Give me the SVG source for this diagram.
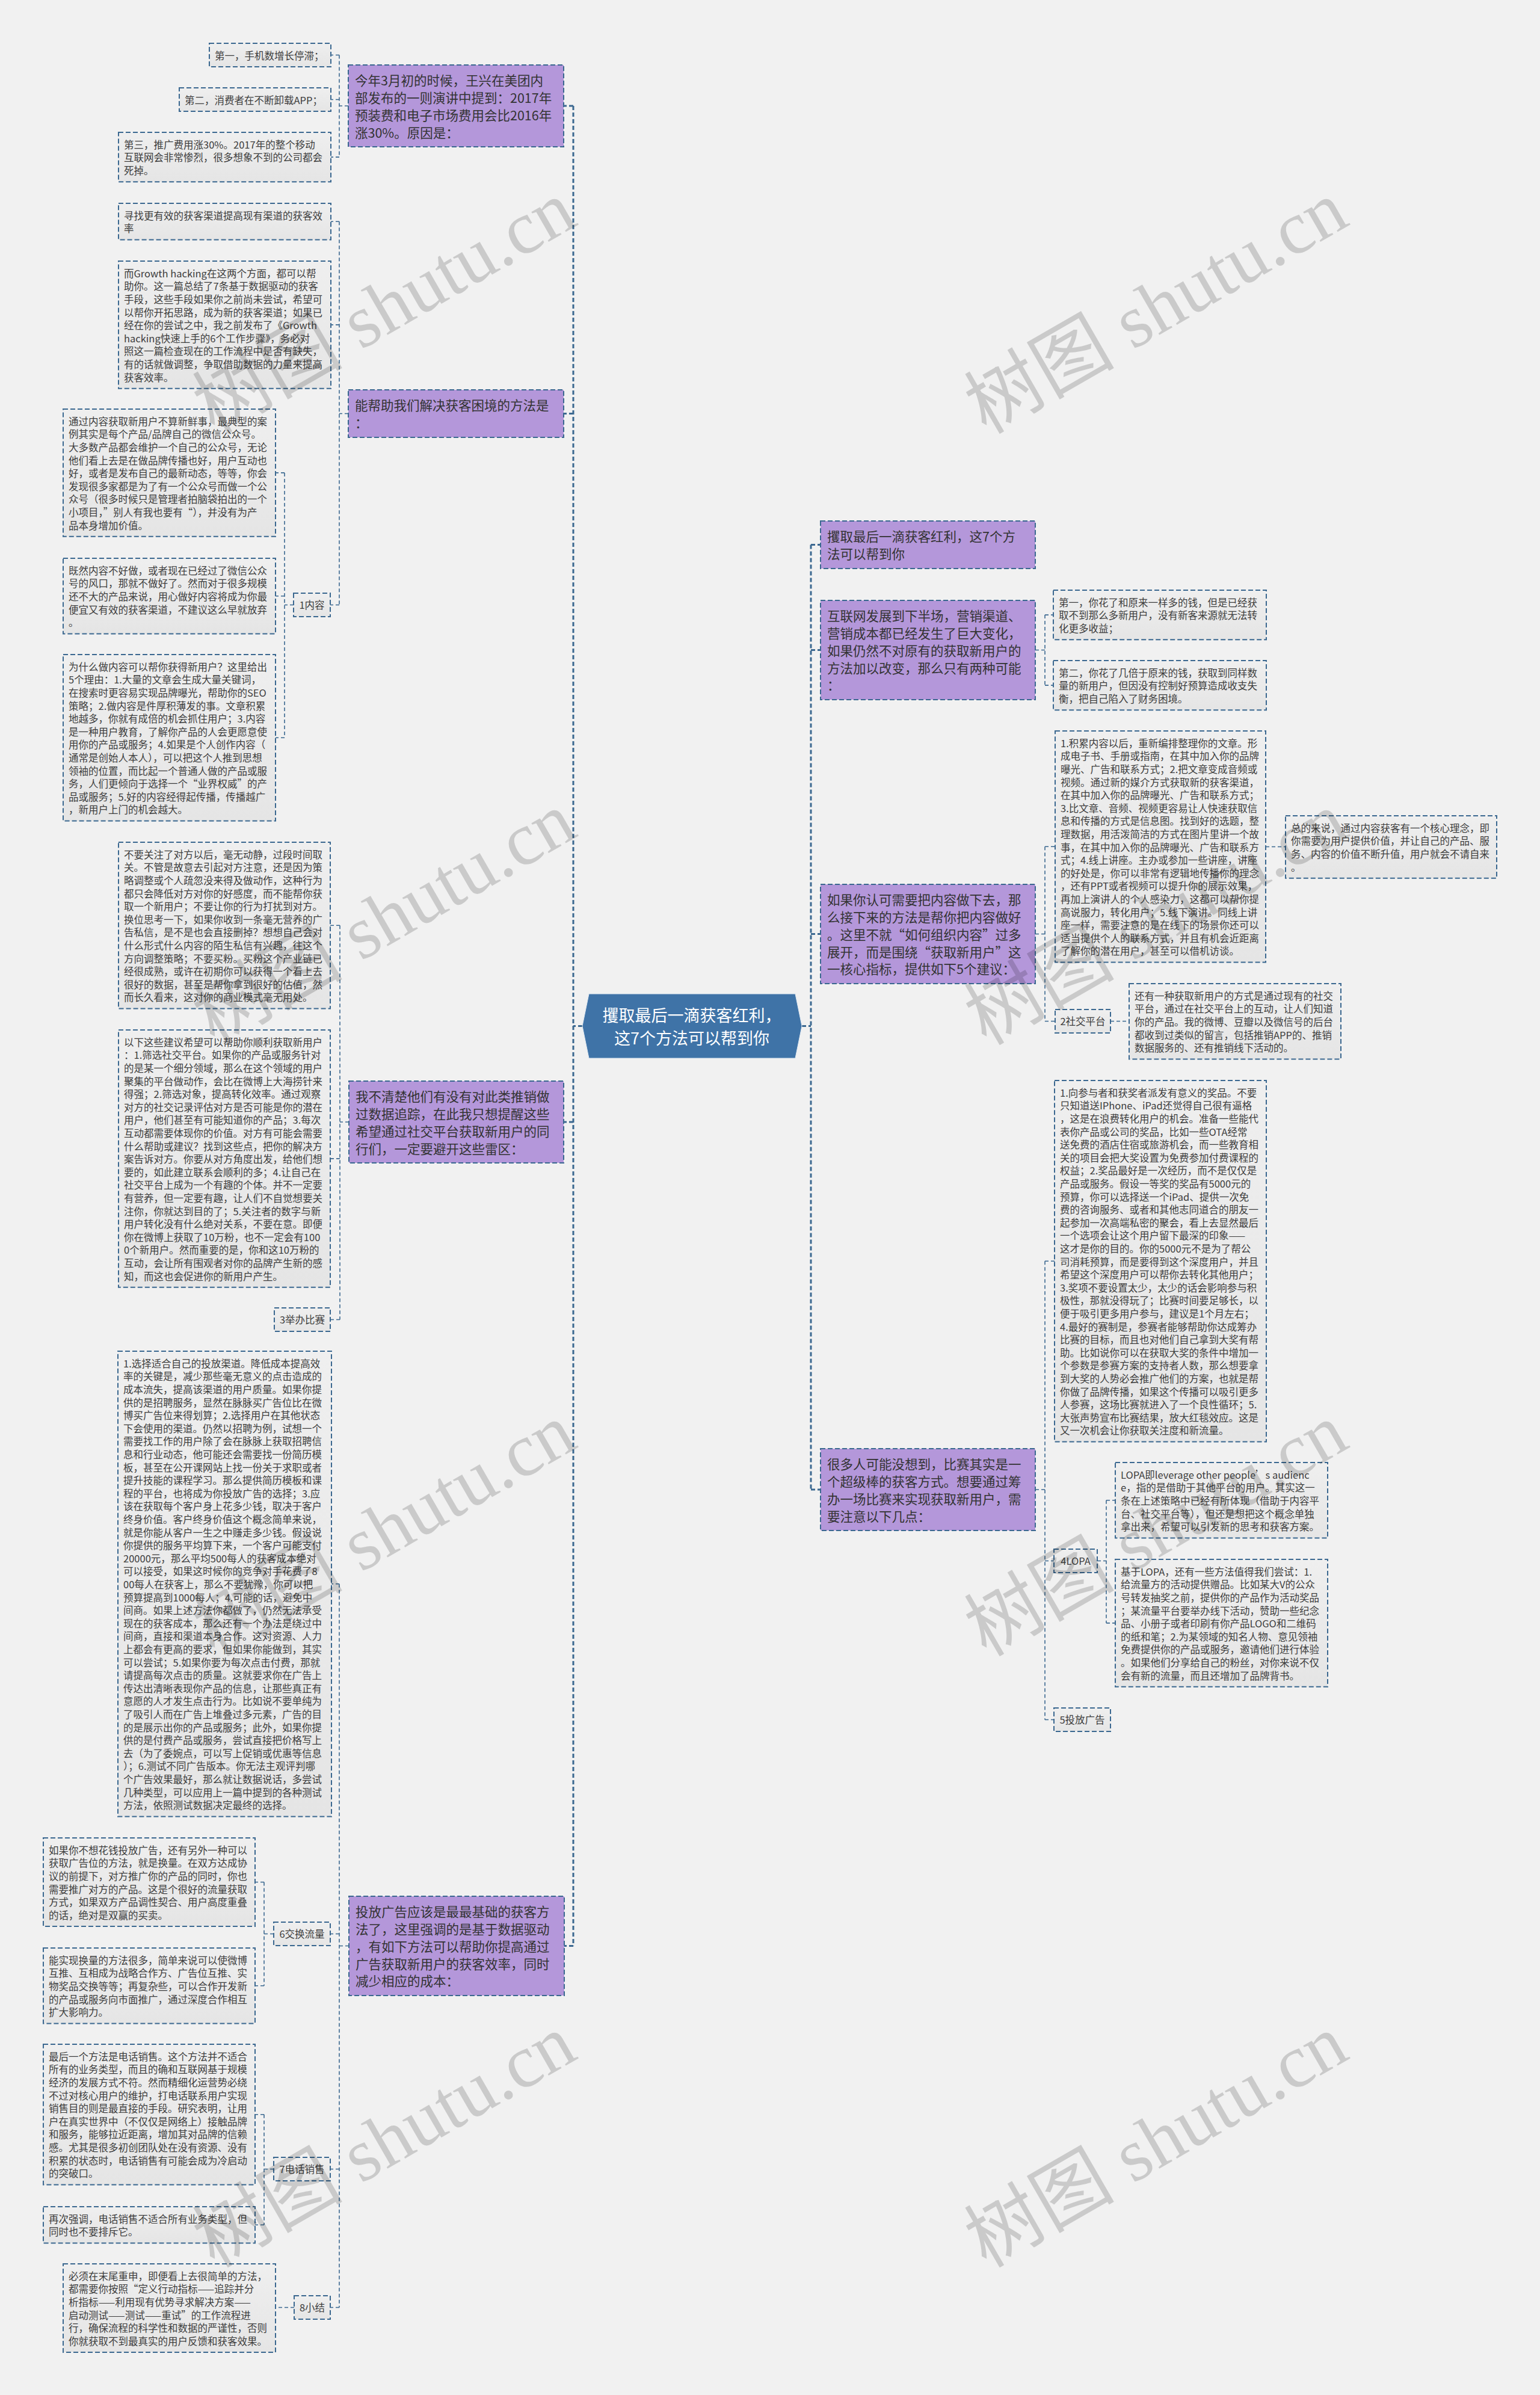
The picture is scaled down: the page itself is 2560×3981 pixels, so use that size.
<svg xmlns="http://www.w3.org/2000/svg" width="2560" height="3981" viewBox="0 0 2560 3981">
<defs>
<linearGradient id="lg" x1="0" y1="0" x2="0" y2="1">
<stop offset="0" stop-color="#efefef"/>
<stop offset="1" stop-color="#e5e5e5"/>
</linearGradient>
<style>
.bg{fill:#f1f1f1}
.leaf{fill:url(#lg);stroke:#3b6890;stroke-width:2;stroke-dasharray:8 4}
.pur{fill:#b497da;stroke:#3b6890;stroke-width:2;stroke-dasharray:8 4}
.t{font-family:"Noto Sans CJK SC","Noto Sans",sans-serif;font-size:16.5px;fill:#3d3d3d}
.pt{font-family:"Noto Sans CJK SC","Noto Sans",sans-serif;font-size:21.5px;fill:#333333}
.ct{font-family:"Noto Sans CJK SC","Noto Sans",sans-serif;font-size:27px;fill:#ffffff}
.lb{text-anchor:middle}
.cm{fill:none;stroke:#3b6890;stroke-width:3;stroke-dasharray:7 4}
.cn{fill:none;stroke:#3b6890;stroke-width:1.6;stroke-dasharray:6 4}
.wm{font-family:"Liberation Serif","Noto Sans CJK SC",serif;font-size:125px;fill:#000000;fill-opacity:0.16;text-anchor:middle}
</style>
</defs>
<rect class="bg" x="0" y="0" width="2560" height="3981"/>

<g id="connectors">
<path class="cm" d="M968,1705.5 H953 M953,176 V3234.5 M953,176 H937 M953,687.5 H937 M953,1865 H937 M953,3234.5 H938"/>
<path class="cm" d="M1333,1705.5 H1348 M1348,905.5 V2476 M1348,905.5 H1364 M1348,1080.5 H1364 M1348,1552.5 H1364 M1348,2476 H1364"/>
<path class="cn" d="M579,176 H564 M564,91.5 V261.1 M564,91.5 H550 M564,165.5 H550 M564,261.1 H550"/>
<path class="cn" d="M579,687.5 H564 M564,368.3 V1005.5 M564,368.3 H550 M564,539.9 H550 M564,1005.5 H549"/>
<path class="cn" d="M488,1005.5 H473 M473,785.9 V1226.3 M473,785.9 H458 M473,990.7 H458 M473,1226.3 H458"/>
<path class="cn" d="M580,1865 H565 M565,1538.3 V2193.5 M565,1538.3 H549 M565,1925.9 H549 M565,2193.5 H549"/>
<path class="cn" d="M580,3234.5 H564 M564,2632.7 V3835.5 M564,2632.7 H551 M564,3214.5 H549 M564,3605.5 H549 M564,3835.5 H549"/>
<path class="cn" d="M455,3214.5 H439 M439,3128.5 V3300.7 M439,3128.5 H424 M439,3300.7 H424"/>
<path class="cn" d="M455,3605.5 H439 M439,3514.7 V3698.3 M439,3514.7 H424 M439,3698.3 H424"/>
<path class="cn" d="M489,3835.5 H458"/>
<path class="cn" d="M1721,1080.5 H1737 M1737,1022.1 V1139.1 M1737,1022.1 H1751 M1737,1139.1 H1751"/>
<path class="cn" d="M1721,1552.5 H1737 M1737,1407.3 V1697.5 M1737,1407.3 H1754 M1737,1697.5 H1754"/>
<path class="cn" d="M2104,1407.5 H2137"/>
<path class="cn" d="M1846,1697.5 H1877"/>
<path class="cn" d="M1721,2476 H1737 M1737,2096.3 V2858.5 M1737,2096.3 H1753 M1737,2594.5 H1752 M1737,2858.5 H1752"/>
<path class="cn" d="M1824,2594.5 H1839 M1839,2493.7 V2697.9 M1839,2493.7 H1854 M1839,2697.9 H1854"/>
</g>

<g id="n-center">
<polygon points="979,1652 1322,1652 1333,1705.5 1322,1759 979,1759 968,1705.5" fill="#3f73a7" stroke="#dfe8f1" stroke-width="1"/>
<text class="ct lb" x="1150" y="1697.5">攫取最后一滴获客红利，</text>
<text class="ct lb" x="1150" y="1735.5">这7个方法可以帮到你</text>
</g>

<g id="n-p1l">
<rect class="pur" x="579" y="108" width="358" height="136"/>
<text class="pt" x="590" y="142.2">今年3月初的时候，王兴在美团内<tspan x="590" dy="28.8">部发布的一则演讲中提到：2017年</tspan><tspan x="590" dy="28.8">预装费和电子市场费用会比2016年</tspan><tspan x="590" dy="28.8">涨30%。原因是：</tspan></text>
</g>
<g id="n-p2l">
<rect class="pur" x="579" y="648" width="358" height="79"/>
<text class="pt" x="590" y="682.2">能帮助我们解决获客困境的方法是<tspan x="590" dy="28.8">：</tspan></text>
</g>
<g id="n-p3l">
<rect class="pur" x="580" y="1797" width="357" height="136"/>
<text class="pt" x="591" y="1831.2">我不清楚他们有没有对此类推销做<tspan x="591" dy="28.8">过数据追踪，在此我只想提醒这些</tspan><tspan x="591" dy="28.8">希望通过社交平台获取新用户的同</tspan><tspan x="591" dy="28.8">行们，一定要避开这些雷区：</tspan></text>
</g>
<g id="n-p4l">
<rect class="pur" x="580" y="3152" width="358" height="165"/>
<text class="pt" x="591" y="3186.2">投放广告应该是最最基础的获客方<tspan x="591" dy="28.8">法了，这里强调的是基于数据驱动</tspan><tspan x="591" dy="28.8">，有如下方法可以帮助你提高通过</tspan><tspan x="591" dy="28.8">广告获取新用户的获客效率，同时</tspan><tspan x="591" dy="28.8">减少相应的成本：</tspan></text>
</g>
<g id="n-p1r">
<rect class="pur" x="1364" y="866" width="357" height="79"/>
<text class="pt" x="1375" y="900.2">攫取最后一滴获客红利，这7个方<tspan x="1375" dy="28.8">法可以帮到你</tspan></text>
</g>
<g id="n-p2r">
<rect class="pur" x="1364" y="998" width="357" height="165"/>
<text class="pt" x="1375" y="1032.2">互联网发展到下半场，营销渠道、<tspan x="1375" dy="28.8">营销成本都已经发生了巨大变化，</tspan><tspan x="1375" dy="28.8">如果仍然不对原有的获取新用户的</tspan><tspan x="1375" dy="28.8">方法加以改变，那么只有两种可能</tspan><tspan x="1375" dy="28.8">：</tspan></text>
</g>
<g id="n-p3r">
<rect class="pur" x="1364" y="1470" width="357" height="165"/>
<text class="pt" x="1375" y="1504.2">如果你认可需要把内容做下去，那<tspan x="1375" dy="28.8">么接下来的方法是帮你把内容做好</tspan><tspan x="1375" dy="28.8">。这里不就“如何组织内容”过多</tspan><tspan x="1375" dy="28.8">展开，而是围绕“获取新用户”这</tspan><tspan x="1375" dy="28.8">一核心指标，提供如下5个建议：</tspan></text>
</g>
<g id="n-p4r">
<rect class="pur" x="1364" y="2408" width="357" height="136"/>
<text class="pt" x="1375" y="2442.2">很多人可能没想到，比赛其实是一<tspan x="1375" dy="28.8">个超级棒的获客方式。想要通过筹</tspan><tspan x="1375" dy="28.8">办一场比赛来实现获取新用户，需</tspan><tspan x="1375" dy="28.8">要注意以下几点：</tspan></text>
</g>

<g id="n-l1">
<rect class="leaf" x="348" y="72" width="202" height="39"/>
<text class="t" x="357" y="98.8">第一，手机数增长停滞；</text>
</g>
<g id="n-l2">
<rect class="leaf" x="298" y="146" width="252" height="39"/>
<text class="t" x="307" y="172.8">第二，消费者在不断卸载APP；</text>
</g>
<g id="n-l3">
<rect class="leaf" x="197" y="220" width="353" height="82.2"/>
<text class="t" x="206" y="246.8">第三，推广费用涨30%。2017年的整个移动<tspan x="206" dy="21.6">互联网会非常惨烈，很多想象不到的公司都会</tspan><tspan x="206" dy="21.6">死掉。</tspan></text>
</g>
<g id="n-l4">
<rect class="leaf" x="197" y="338" width="353" height="60.6"/>
<text class="t" x="206" y="364.8">寻找更有效的获客渠道提高现有渠道的获客效<tspan x="206" dy="21.6">率</tspan></text>
</g>
<g id="n-l5">
<rect class="leaf" x="197" y="434" width="353" height="211.8"/>
<text class="t" x="206" y="460.8">而Growth hacking在这两个方面，都可以帮<tspan x="206" dy="21.6">助你。这一篇总结了7条基于数据驱动的获客</tspan><tspan x="206" dy="21.6">手段，这些手段如果你之前尚未尝试，希望可</tspan><tspan x="206" dy="21.6">以帮你开拓思路，成为新的获客渠道；如果已</tspan><tspan x="206" dy="21.6">经在你的尝试之中，我之前发布了《Growth</tspan><tspan x="206" dy="21.6">hacking快速上手的6个工作步骤》，务必对</tspan><tspan x="206" dy="21.6">照这一篇检查现在的工作流程中是否有缺失，</tspan><tspan x="206" dy="21.6">有的话就做调整，争取借助数据的力量来提高</tspan><tspan x="206" dy="21.6">获客效率。</tspan></text>
</g>
<g id="n-lab1">
<rect class="leaf" x="488" y="986" width="61" height="39"/>
<text class="t lb" x="518.5" y="1011.8">1内容</text>
</g>
<g id="n-l6">
<rect class="leaf" x="105" y="680" width="353" height="211.8"/>
<text class="t" x="114" y="706.8">通过内容获取新用户不算新鲜事，最典型的案<tspan x="114" dy="21.6">例其实是每个产品/品牌自己的微信公众号。</tspan><tspan x="114" dy="21.6">大多数产品都会维护一个自己的公众号，无论</tspan><tspan x="114" dy="21.6">他们看上去是在做品牌传播也好，用户互动也</tspan><tspan x="114" dy="21.6">好，或者是发布自己的最新动态，等等，你会</tspan><tspan x="114" dy="21.6">发现很多家都是为了有一个公众号而做一个公</tspan><tspan x="114" dy="21.6">众号（很多时候只是管理者拍脑袋拍出的一个</tspan><tspan x="114" dy="21.6">小项目，”别人有我也要有“），并没有为产</tspan><tspan x="114" dy="21.6">品本身增加价值。</tspan></text>
</g>
<g id="n-l7">
<rect class="leaf" x="105" y="928" width="353" height="125.4"/>
<text class="t" x="114" y="954.8">既然内容不好做，或者现在已经过了微信公众<tspan x="114" dy="21.6">号的风口，那就不做好了。然而对于很多规模</tspan><tspan x="114" dy="21.6">还不大的产品来说，用心做好内容将成为你最</tspan><tspan x="114" dy="21.6">便宜又有效的获客渠道，不建议这么早就放弃</tspan><tspan x="114" dy="21.6">。</tspan></text>
</g>
<g id="n-l8">
<rect class="leaf" x="105" y="1088" width="353" height="276.6"/>
<text class="t" x="114" y="1114.8">为什么做内容可以帮你获得新用户？这里给出<tspan x="114" dy="21.6">5个理由：1.大量的文章会生成大量关键词，</tspan><tspan x="114" dy="21.6">在搜索时更容易实现品牌曝光，帮助你的SEO</tspan><tspan x="114" dy="21.6">策略；2.做内容是件厚积薄发的事。文章积累</tspan><tspan x="114" dy="21.6">地越多，你就有成倍的机会抓住用户；3.内容</tspan><tspan x="114" dy="21.6">是一种用户教育，了解你产品的人会更愿意使</tspan><tspan x="114" dy="21.6">用你的产品或服务；4.如果是个人创作内容（</tspan><tspan x="114" dy="21.6">通常是创始人本人），可以把这个人推到思想</tspan><tspan x="114" dy="21.6">领袖的位置，而比起一个普通人做的产品或服</tspan><tspan x="114" dy="21.6">务，人们更倾向于选择一个“业界权威”的产</tspan><tspan x="114" dy="21.6">品或服务；5.好的内容经得起传播，传播越广</tspan><tspan x="114" dy="21.6">，新用户上门的机会越大。</tspan></text>
</g>
<g id="n-l9">
<rect class="leaf" x="197" y="1400" width="352" height="276.6"/>
<text class="t" x="206" y="1426.8">不要关注了对方以后，毫无动静，过段时间取<tspan x="206" dy="21.6">关。不管是故意去引起对方注意，还是因为策</tspan><tspan x="206" dy="21.6">略调整或个人疏忽没来得及做动作，这种行为</tspan><tspan x="206" dy="21.6">都只会降低对方对你的好感度，而不能帮你获</tspan><tspan x="206" dy="21.6">取一个新用户；不要让你的行为打扰到对方。</tspan><tspan x="206" dy="21.6">换位思考一下，如果你收到一条毫无营养的广</tspan><tspan x="206" dy="21.6">告私信，是不是也会直接删掉？想想自己会对</tspan><tspan x="206" dy="21.6">什么形式什么内容的陌生私信有兴趣，往这个</tspan><tspan x="206" dy="21.6">方向调整策略；不要买粉。买粉这个产业链已</tspan><tspan x="206" dy="21.6">经很成熟，或许在初期你可以获得一个看上去</tspan><tspan x="206" dy="21.6">很好的数据，甚至是帮你拿到很好的估值，然</tspan><tspan x="206" dy="21.6">而长久看来，这对你的商业模式毫无用处。</tspan></text>
</g>
<g id="n-l10">
<rect class="leaf" x="197" y="1712" width="352" height="427.8"/>
<text class="t" x="206" y="1738.8">以下这些建议希望可以帮助你顺利获取新用户<tspan x="206" dy="21.6">：1.筛选社交平台。如果你的产品或服务针对</tspan><tspan x="206" dy="21.6">的是某一个细分领域，那么在这个领域的用户</tspan><tspan x="206" dy="21.6">聚集的平台做动作，会比在微博上大海捞针来</tspan><tspan x="206" dy="21.6">得强；2.筛选对象，提高转化效率。通过观察</tspan><tspan x="206" dy="21.6">对方的社交记录评估对方是否可能是你的潜在</tspan><tspan x="206" dy="21.6">用户，他们甚至有可能知道你的产品；3.每次</tspan><tspan x="206" dy="21.6">互动都需要体现你的价值。对方有可能会需要</tspan><tspan x="206" dy="21.6">什么帮助或建议？找到这些点，把你的解决方</tspan><tspan x="206" dy="21.6">案告诉对方。你要从对方角度出发，给他们想</tspan><tspan x="206" dy="21.6">要的，如此建立联系会顺利的多；4.让自己在</tspan><tspan x="206" dy="21.6">社交平台上成为一个有趣的个体。并不一定要</tspan><tspan x="206" dy="21.6">有营养，但一定要有趣，让人们不自觉想要关</tspan><tspan x="206" dy="21.6">注你，你就达到目的了；5.关注者的数字与新</tspan><tspan x="206" dy="21.6">用户转化没有什么绝对关系，不要在意。即便</tspan><tspan x="206" dy="21.6">你在微博上获取了10万粉，也不一定会有100</tspan><tspan x="206" dy="21.6">0个新用户。然而重要的是，你和这10万粉的</tspan><tspan x="206" dy="21.6">互动，会让所有围观者对你的品牌产生新的感</tspan><tspan x="206" dy="21.6">知，而这也会促进你的新用户产生。</tspan></text>
</g>
<g id="n-lab3">
<rect class="leaf" x="456" y="2174" width="93" height="39"/>
<text class="t lb" x="502.5" y="2199.8">3举办比赛</text>
</g>
<g id="n-l11">
<rect class="leaf" x="196" y="2246" width="355" height="773.4"/>
<text class="t" x="205" y="2272.8">1.选择适合自己的投放渠道。降低成本提高效<tspan x="205" dy="21.6">率的关键是，减少那些毫无意义的点击造成的</tspan><tspan x="205" dy="21.6">成本流失，提高该渠道的用户质量。如果你提</tspan><tspan x="205" dy="21.6">供的是招聘服务，显然在脉脉买广告位比在微</tspan><tspan x="205" dy="21.6">博买广告位来得划算；2.选择用户在其他状态</tspan><tspan x="205" dy="21.6">下会使用的渠道。仍然以招聘为例，试想一个</tspan><tspan x="205" dy="21.6">需要找工作的用户除了会在脉脉上获取招聘信</tspan><tspan x="205" dy="21.6">息和行业动态，他可能还会需要找一份简历模</tspan><tspan x="205" dy="21.6">板，甚至在公开课网站上找一份关于求职或者</tspan><tspan x="205" dy="21.6">提升技能的课程学习。那么提供简历模板和课</tspan><tspan x="205" dy="21.6">程的平台，也将成为你投放广告的选择；3.应</tspan><tspan x="205" dy="21.6">该在获取每个客户身上花多少钱，取决于客户</tspan><tspan x="205" dy="21.6">终身价值。客户终身价值这个概念简单来说，</tspan><tspan x="205" dy="21.6">就是你能从客户一生之中赚走多少钱。假设说</tspan><tspan x="205" dy="21.6">你提供的服务平均算下来，一个客户可能支付</tspan><tspan x="205" dy="21.6">20000元，那么平均500每人的获客成本绝对</tspan><tspan x="205" dy="21.6">可以接受，如果这时候你的竞争对手花费了8</tspan><tspan x="205" dy="21.6">00每人在获客上，那么不要犹豫，你可以把</tspan><tspan x="205" dy="21.6">预算提高到1000每人；4.可能的话，避免中</tspan><tspan x="205" dy="21.6">间商。如果上述方法你都做了，仍然无法承受</tspan><tspan x="205" dy="21.6">现在的获客成本，那么还有一个办法是绕过中</tspan><tspan x="205" dy="21.6">间商，直接和渠道本身合作。这对资源、人力</tspan><tspan x="205" dy="21.6">上都会有更高的要求，但如果你能做到，其实</tspan><tspan x="205" dy="21.6">可以尝试；5.如果你要为每次点击付费，那就</tspan><tspan x="205" dy="21.6">请提高每次点击的质量。这就要求你在广告上</tspan><tspan x="205" dy="21.6">传达出清晰表现你产品的信息，让那些真正有</tspan><tspan x="205" dy="21.6">意愿的人才发生点击行为。比如说不要单纯为</tspan><tspan x="205" dy="21.6">了吸引人而在广告上堆叠过多元素，广告的目</tspan><tspan x="205" dy="21.6">的是展示出你的产品或服务；此外，如果你提</tspan><tspan x="205" dy="21.6">供的是付费产品或服务，尝试直接把价格写上</tspan><tspan x="205" dy="21.6">去（为了委婉点，可以写上促销或优惠等信息</tspan><tspan x="205" dy="21.6">）；6.测试不同广告版本。你无法主观评判哪</tspan><tspan x="205" dy="21.6">个广告效果最好，那么就让数据说话，多尝试</tspan><tspan x="205" dy="21.6">几种类型，可以应用上一篇中提到的各种测试</tspan><tspan x="205" dy="21.6">方法，依照测试数据决定最终的选择。</tspan></text>
</g>
<g id="n-lab6">
<rect class="leaf" x="455" y="3195" width="94" height="39"/>
<text class="t lb" x="502" y="3220.8">6交换流量</text>
</g>
<g id="n-l12">
<rect class="leaf" x="72" y="3055" width="352" height="147"/>
<text class="t" x="81" y="3081.8">如果你不想花钱投放广告，还有另外一种可以<tspan x="81" dy="21.6">获取广告位的方法，就是换量。在双方达成协</tspan><tspan x="81" dy="21.6">议的前提下，对方推广你的产品的同时，你也</tspan><tspan x="81" dy="21.6">需要推广对方的产品。这是个很好的流量获取</tspan><tspan x="81" dy="21.6">方式，如果双方产品调性契合、用户高度重叠</tspan><tspan x="81" dy="21.6">的话，绝对是双赢的买卖。</tspan></text>
</g>
<g id="n-l13">
<rect class="leaf" x="72" y="3238" width="352" height="125.4"/>
<text class="t" x="81" y="3264.8">能实现换量的方法很多，简单来说可以使微博<tspan x="81" dy="21.6">互推、互相成为战略合作方、广告位互推、实</tspan><tspan x="81" dy="21.6">物奖品交换等等；再复杂些，可以合作开发新</tspan><tspan x="81" dy="21.6">的产品或服务向市面推广，通过深度合作相互</tspan><tspan x="81" dy="21.6">扩大影响力。</tspan></text>
</g>
<g id="n-lab7">
<rect class="leaf" x="455" y="3586" width="94" height="39"/>
<text class="t lb" x="502" y="3611.8">7电话销售</text>
</g>
<g id="n-l14">
<rect class="leaf" x="72" y="3398" width="352" height="233.4"/>
<text class="t" x="81" y="3424.8">最后一个方法是电话销售。这个方法并不适合<tspan x="81" dy="21.6">所有的业务类型，而且的确和互联网基于规模</tspan><tspan x="81" dy="21.6">经济的发展方式不符。然而精细化运营势必绕</tspan><tspan x="81" dy="21.6">不过对核心用户的维护，打电话联系用户实现</tspan><tspan x="81" dy="21.6">销售目的则是最直接的手段。研究表明，让用</tspan><tspan x="81" dy="21.6">户在真实世界中（不仅仅是网络上）接触品牌</tspan><tspan x="81" dy="21.6">和服务，能够拉近距离，增加其对品牌的信赖</tspan><tspan x="81" dy="21.6">感。尤其是很多初创团队处在没有资源、没有</tspan><tspan x="81" dy="21.6">积累的状态时，电话销售有可能会成为冷启动</tspan><tspan x="81" dy="21.6">的突破口。</tspan></text>
</g>
<g id="n-l15">
<rect class="leaf" x="72" y="3668" width="352" height="60.6"/>
<text class="t" x="81" y="3694.8">再次强调，电话销售不适合所有业务类型，但<tspan x="81" dy="21.6">同时也不要排斥它。</tspan></text>
</g>
<g id="n-lab8">
<rect class="leaf" x="489" y="3816" width="60" height="39"/>
<text class="t lb" x="519" y="3841.8">8小结</text>
</g>
<g id="n-l16">
<rect class="leaf" x="105" y="3763" width="353" height="147"/>
<text class="t" x="114" y="3789.8">必须在末尾重申，即便看上去很简单的方法，<tspan x="114" dy="21.6">都需要你按照“定义行动指标——追踪并分</tspan><tspan x="114" dy="21.6">析指标——利用现有优势寻求解决方案——</tspan><tspan x="114" dy="21.6">启动测试——测试——重试”的工作流程进</tspan><tspan x="114" dy="21.6">行，确保流程的科学性和数据的严谨性，否则</tspan><tspan x="114" dy="21.6">你就获取不到最真实的用户反馈和获客效果。</tspan></text>
</g>

<g id="n-r1">
<rect class="leaf" x="1751" y="981" width="354" height="82.2"/>
<text class="t" x="1760" y="1007.8">第一，你花了和原来一样多的钱，但是已经获<tspan x="1760" dy="21.6">取不到那么多新用户，没有新客来源就无法转</tspan><tspan x="1760" dy="21.6">化更多收益；</tspan></text>
</g>
<g id="n-r2">
<rect class="leaf" x="1751" y="1098" width="354" height="82.2"/>
<text class="t" x="1760" y="1124.8">第二，你花了几倍于原来的钱，获取到同样数<tspan x="1760" dy="21.6">量的新用户，但因没有控制好预算造成收支失</tspan><tspan x="1760" dy="21.6">衡，把自己陷入了财务困境。</tspan></text>
</g>
<g id="n-r3">
<rect class="leaf" x="1754" y="1215" width="350" height="384.6"/>
<text class="t" x="1763" y="1241.8">1.积累内容以后，重新编排整理你的文章。形<tspan x="1763" dy="21.6">成电子书、手册或指南，在其中加入你的品牌</tspan><tspan x="1763" dy="21.6">曝光、广告和联系方式；2.把文章变成音频或</tspan><tspan x="1763" dy="21.6">视频。通过新的媒介方式获取新的获客渠道，</tspan><tspan x="1763" dy="21.6">在其中加入你的品牌曝光、广告和联系方式；</tspan><tspan x="1763" dy="21.6">3.比文章、音频、视频更容易让人快速获取信</tspan><tspan x="1763" dy="21.6">息和传播的方式是信息图。找到好的选题，整</tspan><tspan x="1763" dy="21.6">理数据，用活泼简洁的方式在图片里讲一个故</tspan><tspan x="1763" dy="21.6">事，在其中加入你的品牌曝光、广告和联系方</tspan><tspan x="1763" dy="21.6">式；4.线上讲座。主办或参加一些讲座，讲座</tspan><tspan x="1763" dy="21.6">的好处是，你可以非常有逻辑地传播你的理念</tspan><tspan x="1763" dy="21.6">，还有PPT或者视频可以提升你的展示效果，</tspan><tspan x="1763" dy="21.6">再加上演讲人的个人感染力，这都可以帮你提</tspan><tspan x="1763" dy="21.6">高说服力，转化用户；5.线下演讲。同线上讲</tspan><tspan x="1763" dy="21.6">座一样，需要注意的是在线下的场景你还可以</tspan><tspan x="1763" dy="21.6">适当提供个人的联系方式，并且有机会近距离</tspan><tspan x="1763" dy="21.6">了解你的潜在用户，甚至可以借机访谈。</tspan></text>
</g>
<g id="n-r4">
<rect class="leaf" x="2137" y="1356" width="351" height="103.8"/>
<text class="t" x="2146" y="1382.8">总的来说，通过内容获客有一个核心理念，即<tspan x="2146" dy="21.6">你需要为用户提供价值，并让自己的产品、服</tspan><tspan x="2146" dy="21.6">务、内容的价值不断升值，用户就会不请自来</tspan><tspan x="2146" dy="21.6">。</tspan></text>
</g>
<g id="n-lab2">
<rect class="leaf" x="1754" y="1678" width="92" height="39"/>
<text class="t lb" x="1800" y="1703.8">2社交平台</text>
</g>
<g id="n-r5">
<rect class="leaf" x="1877" y="1635" width="352" height="125.4"/>
<text class="t" x="1886" y="1661.8">还有一种获取新用户的方式是通过现有的社交<tspan x="1886" dy="21.6">平台，通过在社交平台上的互动，让人们知道</tspan><tspan x="1886" dy="21.6">你的产品。我的微博、豆瓣以及微信号的后台</tspan><tspan x="1886" dy="21.6">都收到过类似的留言，包括推销APP的、推销</tspan><tspan x="1886" dy="21.6">数据服务的、还有推销线下活动的。</tspan></text>
</g>
<g id="n-r6">
<rect class="leaf" x="1753" y="1796" width="352" height="600.6"/>
<text class="t" x="1762" y="1822.8">1.向参与者和获奖者派发有意义的奖品。不要<tspan x="1762" dy="21.6">只知道送IPhone、iPad还觉得自己很有逼格</tspan><tspan x="1762" dy="21.6">，这是在浪费转化用户的机会。准备一些能代</tspan><tspan x="1762" dy="21.6">表你产品或公司的奖品，比如一些OTA经常</tspan><tspan x="1762" dy="21.6">送免费的酒店住宿或旅游机会，而一些教育相</tspan><tspan x="1762" dy="21.6">关的项目会把大奖设置为免费参加付费课程的</tspan><tspan x="1762" dy="21.6">权益；2.奖品最好是一次经历，而不是仅仅是</tspan><tspan x="1762" dy="21.6">产品或服务。假设一等奖的奖品有5000元的</tspan><tspan x="1762" dy="21.6">预算，你可以选择送一个iPad、提供一次免</tspan><tspan x="1762" dy="21.6">费的咨询服务、或者和其他志同道合的朋友一</tspan><tspan x="1762" dy="21.6">起参加一次高端私密的聚会，看上去显然最后</tspan><tspan x="1762" dy="21.6">一个选项会让这个用户留下最深的印象——</tspan><tspan x="1762" dy="21.6">这才是你的目的。你的5000元不是为了帮公</tspan><tspan x="1762" dy="21.6">司消耗预算，而是要得到这个深度用户，并且</tspan><tspan x="1762" dy="21.6">希望这个深度用户可以帮你去转化其他用户；</tspan><tspan x="1762" dy="21.6">3.奖项不要设置太少，太少的话会影响参与积</tspan><tspan x="1762" dy="21.6">极性，那就没得玩了；比赛时间要足够长，以</tspan><tspan x="1762" dy="21.6">便于吸引更多用户参与，建议是1个月左右；</tspan><tspan x="1762" dy="21.6">4.最好的赛制是，参赛者能够帮助你达成筹办</tspan><tspan x="1762" dy="21.6">比赛的目标，而且也对他们自己拿到大奖有帮</tspan><tspan x="1762" dy="21.6">助。比如说你可以在获取大奖的条件中增加一</tspan><tspan x="1762" dy="21.6">个参数是参赛方案的支持者人数，那么想要拿</tspan><tspan x="1762" dy="21.6">到大奖的人势必会推广他们的方案，也就是帮</tspan><tspan x="1762" dy="21.6">你做了品牌传播，如果这个传播可以吸引更多</tspan><tspan x="1762" dy="21.6">人参赛，这场比赛就进入了一个良性循环；5.</tspan><tspan x="1762" dy="21.6">大张声势宣布比赛结果，放大红毯效应。这是</tspan><tspan x="1762" dy="21.6">又一次机会让你获取关注度和新流量。</tspan></text>
</g>
<g id="n-lab4">
<rect class="leaf" x="1752" y="2575" width="72" height="39"/>
<text class="t lb" x="1788" y="2600.8">4LOPA</text>
</g>
<g id="n-r7">
<rect class="leaf" x="1854" y="2431" width="353" height="125.4"/>
<text class="t" x="1863" y="2457.8">LOPA即leverage other people’s audienc<tspan x="1863" dy="21.6">e，指的是借助于其他平台的用户。其实这一</tspan><tspan x="1863" dy="21.6">条在上述策略中已经有所体现（借助于内容平</tspan><tspan x="1863" dy="21.6">台、社交平台等），但还是想把这个概念单独</tspan><tspan x="1863" dy="21.6">拿出来，希望可以引发新的思考和获客方案。</tspan></text>
</g>
<g id="n-r8">
<rect class="leaf" x="1854" y="2592" width="353" height="211.8"/>
<text class="t" x="1863" y="2618.8">基于LOPA，还有一些方法值得我们尝试：1.<tspan x="1863" dy="21.6">给流量方的活动提供赠品。比如某大V的公众</tspan><tspan x="1863" dy="21.6">号转发抽奖之前，提供你的产品作为活动奖品</tspan><tspan x="1863" dy="21.6">；某流量平台要举办线下活动，赞助一些纪念</tspan><tspan x="1863" dy="21.6">品、小册子或者印刷有你产品LOGO和二维码</tspan><tspan x="1863" dy="21.6">的纸和笔；2.为某领域的知名人物、意见领袖</tspan><tspan x="1863" dy="21.6">免费提供你的产品或服务，邀请他们进行体验</tspan><tspan x="1863" dy="21.6">。如果他们分享给自己的粉丝，对你来说不仅</tspan><tspan x="1863" dy="21.6">会有新的流量，而且还增加了品牌背书。</tspan></text>
</g>
<g id="n-lab5">
<rect class="leaf" x="1752" y="2839" width="94" height="39"/>
<text class="t lb" x="1799" y="2864.8">5投放广告</text>
</g>

<g id="watermarks">
<text class="wm" x="640" y="553" transform="rotate(-30 640 513)">树图 shutu.cn</text>
<text class="wm" x="1923" y="553" transform="rotate(-30 1923 513)">树图 shutu.cn</text>
<text class="wm" x="640" y="1569" transform="rotate(-30 640 1529)">树图 shutu.cn</text>
<text class="wm" x="1923" y="1569" transform="rotate(-30 1923 1529)">树图 shutu.cn</text>
<text class="wm" x="640" y="2585" transform="rotate(-30 640 2545)">树图 shutu.cn</text>
<text class="wm" x="1923" y="2585" transform="rotate(-30 1923 2545)">树图 shutu.cn</text>
<text class="wm" x="640" y="3601" transform="rotate(-30 640 3561)">树图 shutu.cn</text>
<text class="wm" x="1923" y="3601" transform="rotate(-30 1923 3561)">树图 shutu.cn</text>
</g>
</svg>
